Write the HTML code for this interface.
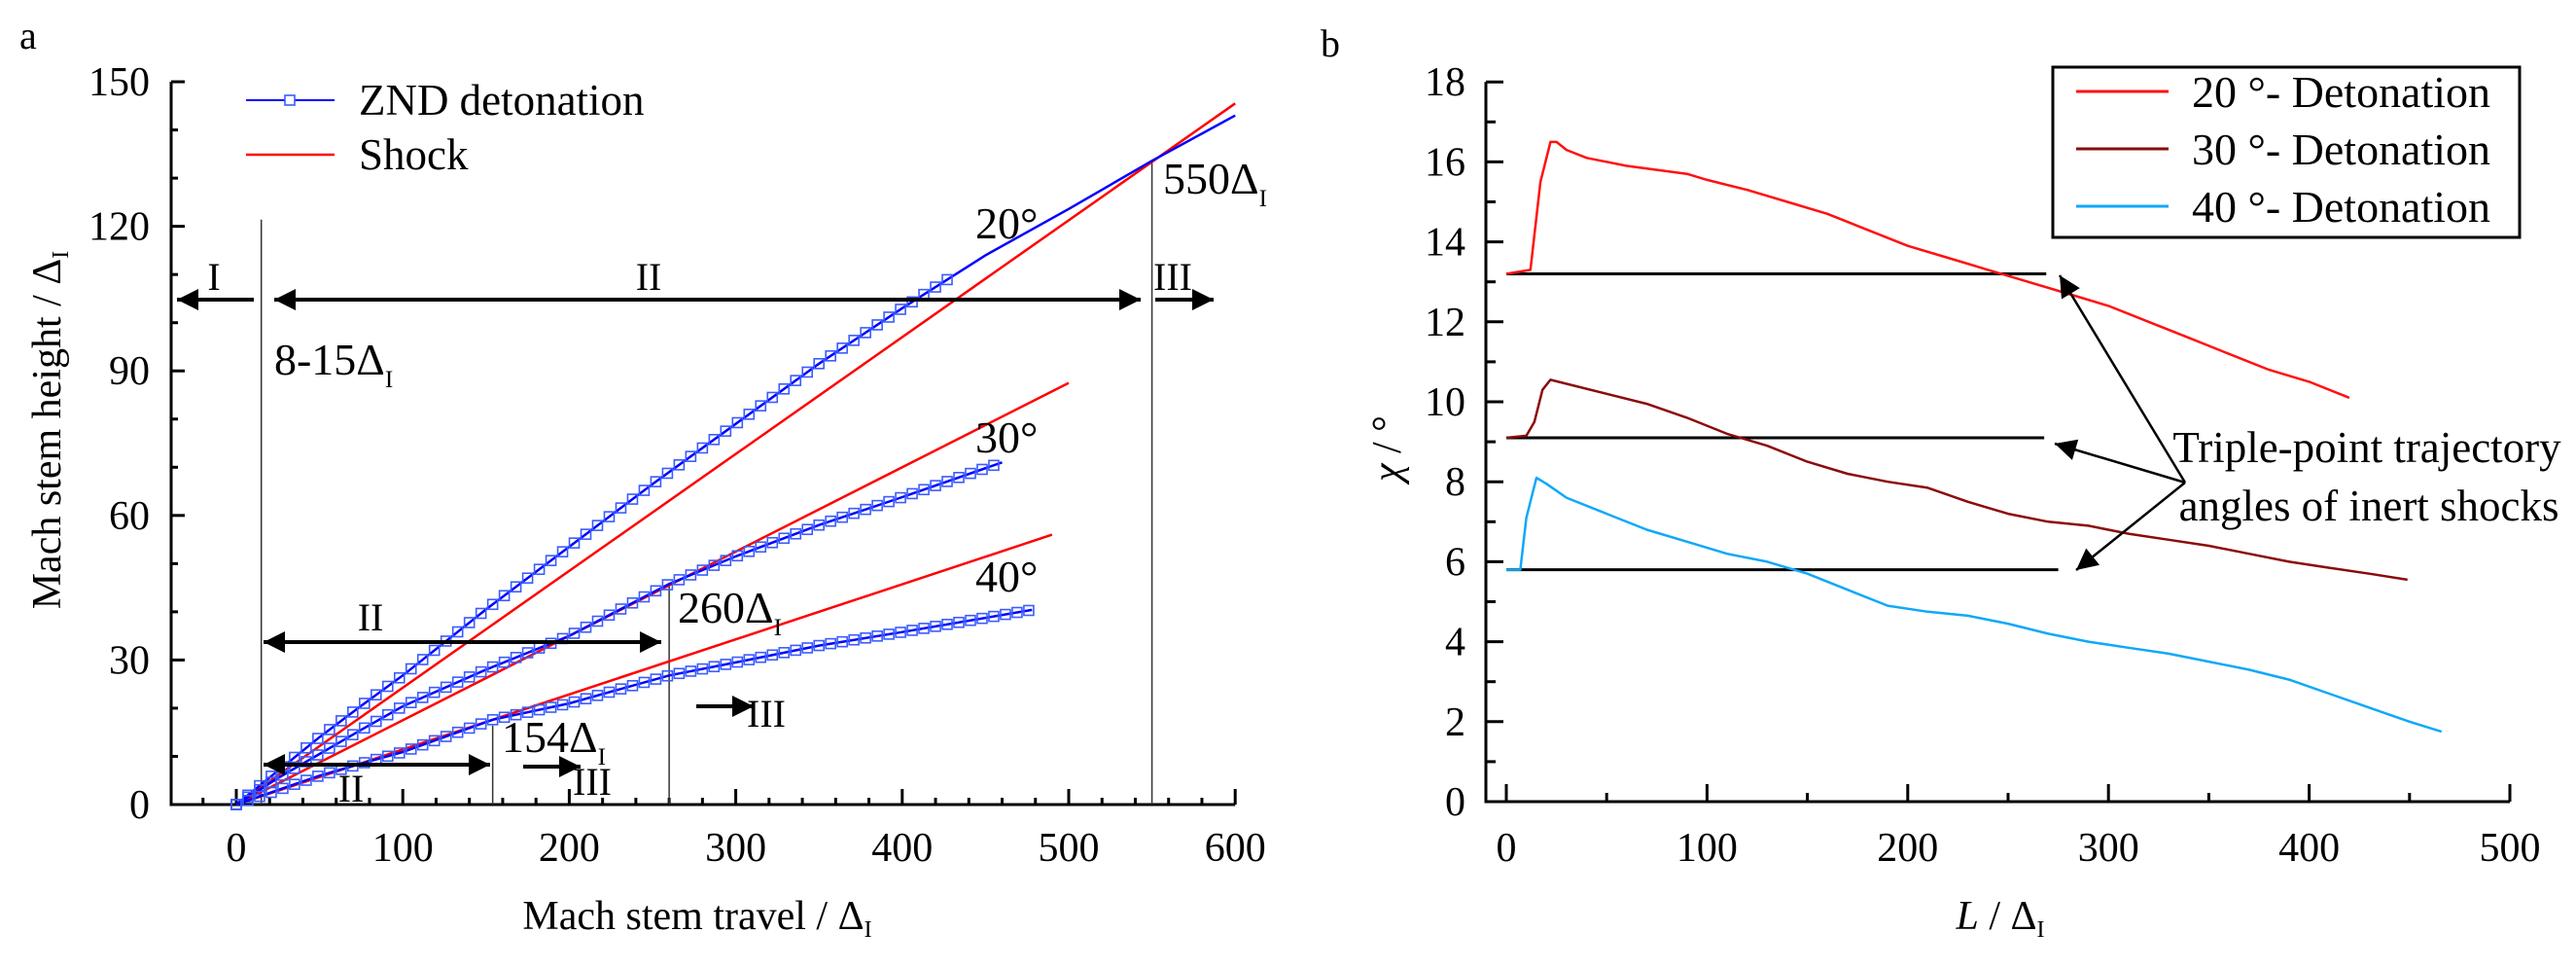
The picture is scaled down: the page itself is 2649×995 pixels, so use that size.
<!DOCTYPE html>
<html><head><meta charset="utf-8"><style>
html,body{margin:0;padding:0;background:#fff}
svg, svg text, svg tspan{font-family:'Liberation Serif',serif !important}
</style></head><body>
<svg id="fig" width="2649" height="990" viewBox="0 0 2649 990" xmlns="http://www.w3.org/2000/svg" style="font-family:'Liberation Serif',serif">
<defs>
<marker id="ah" viewBox="0 0 10 10" refX="10" refY="5" markerWidth="30" markerHeight="22" markerUnits="userSpaceOnUse" orient="auto-start-reverse"><path d="M0,0 L10,5 L0,10 Z" fill="#000"/></marker>
<marker id="ahb" viewBox="0 0 10 10" refX="10" refY="5" markerWidth="32" markerHeight="22" markerUnits="userSpaceOnUse" orient="auto-start-reverse"><path d="M0,0 L10,5 L0,10 Z" fill="#000"/></marker>
</defs>
<g id="chartA"></g>
<g id="chartB"></g>
</svg>
<script>
// ---------- Chart A data ----------
const aXTicks = [0,100,200,300,400,500,600];
const aYTicks = [0,30,60,90,120,150];
const znd20X = [0,25,50,75,100,150,200,250,300,350,400,450,500,550,600];
const znd20Y = [0,7,14,20.5,26.8,40.5,53.5,66.5,79,91.5,103,114,123.6,133.6,143];
const znd30X = [0,25,50,75,100,150,200,260,300,350,400,460];
const znd30Y = [0,5.5,10.5,15.5,20.4,28,35,45.8,51.5,58,63.8,71];
const znd40X = [0,25,50,75,100,154,200,260,300,350,400,478];
const znd40Y = [0,3,6,8.5,10.9,17.6,21,26.8,29.5,33,35.8,40.4];
const shockX = [[0,600],[0,500],[0,490]];
const shockY = [[0,145.5],[0,87.5],[0,56]];
const markerEnd = [430,460,478];
const markerStep = 7;

// ---------- Chart B data ----------
const bXTicks = [0,100,200,300,400,500];
const bYTicks = [0,2,4,6,8,10,12,14,16,18];
const det20X = [0,12,17,22,25,30,40,60,75,90,100,120,140,160,180,200,220,240,260,280,300,320,340,360,380,400,420];
const det20Y = [13.2,13.3,15.5,16.5,16.5,16.3,16.1,15.9,15.8,15.7,15.55,15.3,15.0,14.7,14.3,13.9,13.6,13.3,13.0,12.7,12.4,12.0,11.6,11.2,10.8,10.5,10.1];
const det30X = [0,10,14,18,22,30,50,70,90,110,130,150,170,190,210,230,250,270,290,310,330,350,370,390,410,430,449];
const det30Y = [9.1,9.15,9.5,10.3,10.55,10.45,10.2,9.95,9.6,9.2,8.9,8.5,8.2,8.0,7.85,7.5,7.2,7.0,6.9,6.7,6.55,6.4,6.2,6.0,5.85,5.7,5.55];
const det40X = [0,7,10,15,20,30,50,70,90,110,130,150,170,190,210,230,250,270,290,310,330,350,370,390,410,430,450,466];
const det40Y = [5.8,5.8,7.1,8.1,7.95,7.6,7.2,6.8,6.5,6.2,6.0,5.7,5.3,4.9,4.75,4.65,4.45,4.2,4.0,3.85,3.7,3.5,3.3,3.05,2.7,2.35,2.0,1.75];
const inertY = [13.2,9.1,5.8];
const inertEnd = [269,268,275];

const NS = "http://www.w3.org/2000/svg";
const FONTSTYLE = "font-family:'Liberation Serif',serif";
function mk(parent, tag, attrs, text){
  const e = document.createElementNS(NS, tag);
  for (const k in attrs) e.setAttribute(k, attrs[k]);
  if (tag === 'text' || tag === 'tspan') e.setAttribute('style', FONTSTYLE + (attrs.italic ? ';font-style:italic' : ''));
  if (text !== undefined) e.textContent = text;
  parent.appendChild(e); return e;
}
function sText(parent, x, y, size, anchor){
  const k = size/42;
  return mk(parent,'text',{x:0,y:0,'font-size':42,'text-anchor':anchor||'start',fill:'#000',transform:`translate(${x},${y}) scale(${k.toFixed(3)})`});
}
function interp(xs, ys, x){
  for (let i=0;i<xs.length-1;i++){ if (x>=xs[i] && x<=xs[i+1]) { const t=(x-xs[i])/(xs[i+1]-xs[i]); return ys[i]+t*(ys[i+1]-ys[i]); } }
  return ys[ys.length-1];
}
function pathD(xs, ys, sx, sy){ return xs.map((x,i)=>(i?'L':'M')+sx(x).toFixed(1)+','+sy(ys[i]).toFixed(1)).join(' '); }
function deltaLabel(g, x, y, pre, size, name){
  const t = sText(g, x, y, size);
  
  
  mk(t,'tspan',{},pre+'Δ');
  mk(t,'tspan',{'font-size':23,dy:12},'I');
  return t;
}

// ---------- Chart A ----------
(function(){
  const g = document.getElementById('chartA');
  const ax = x => 243 + (x)*1.712;
  const ay = y => 827 - y*4.953;
  const x0 = 176, xR = ax(600), yB = ay(0);
  const txt = (x,y,s,size,name,anchor)=>{ const t=sText(g,x,y,size,anchor); mk(t,'tspan',{},s);   return t; };
  txt(20,50,'a',40,'panel-label-a');
  const axl = mk(g,'path',{d:`M${x0},${ay(150)} L${x0},${yB} L${xR},${yB}`,stroke:'#000','stroke-width':3,fill:'none'});
   
  for (let v=-40; v<=600; v+=20){ const major = v%100===0; if (v<-35) continue;
    const tk = mk(g,'line',{x1:ax(v),x2:ax(v),y1:yB,y2:yB-(major?16:7),stroke:'#000','stroke-width':3});
      }
  aXTicks.forEach(v=>txt(ax(v),885,String(v),42,'x-tick-label','middle'));
  for (let v=0; v<=150; v+=10){ const major=v%30===0;
    const tk = mk(g,'line',{x1:x0,x2:x0+(major?14:7),y1:ay(v),y2:ay(v),stroke:'#000','stroke-width':3});
      }
  aYTicks.forEach(v=>txt(154,ay(v)+14,String(v),42,'y-tick-label','end'));
  const yt = mk(g,'text',{x:0,y:0,'font-size':42,'text-anchor':'middle',transform:'translate(62,442) rotate(-90)'});
   
  mk(yt,'tspan',{},'Mach stem height / Δ'); mk(yt,'tspan',{'font-size':24,dy:8},'I');
  const xt = mk(g,'text',{x:717,y:955,'font-size':42,'text-anchor':'middle'});
   
  mk(xt,'tspan',{},'Mach stem travel / Δ'); mk(xt,'tspan',{'font-size':24,dy:8},'I');
  [[15,122],[154,17],[260,46],[550,134]].forEach(p=>{
    const l = mk(g,'line',{x1:ax(p[0]),x2:ax(p[0]),y1:ay(p[1])+3,y2:yB,stroke:'#333','stroke-width':1.5});
      });
  const shockNames=['shock-20','shock-30','shock-40'];
  shockX.forEach((xs,i)=>{ const p=mk(g,'path',{d:pathD(xs,shockY[i],ax,ay),stroke:'#ff0000','stroke-width':2.5,fill:'none'});
      });
  const zx=[znd20X,znd30X,znd40X], zy=[znd20Y,znd30Y,znd40Y], zn=['znd-20','znd-30','znd-40'];
  zx.forEach((xs,i)=>{
    const p=mk(g,'path',{d:pathD(xs,zy[i],ax,ay),stroke:'#0000ff','stroke-width':2.5,fill:'none'});
     
    for (let x=0; x<=markerEnd[i]; x+=markerStep){
      const y=interp(xs,zy[i],x);
      const r=mk(g,'rect',{x:ax(x)-5,y:ay(y)-5,width:10,height:10,fill:'none',stroke:'#3a5cff','stroke-width':1.6});
       
    }
  });
  const lg = mk(g,'g',{});  
  const l1=mk(lg,'line',{x1:253,x2:344,y1:103,y2:103,stroke:'#0000ff','stroke-width':2});
   
  const r1=mk(lg,'rect',{x:293,y:98,width:10,height:10,fill:'#fff',stroke:'#3a5cff','stroke-width':1.6});
   
  txt(369,118,'ZND detonation',45,'legend-znd-text');
  const l2=mk(lg,'line',{x1:253,x2:344,y1:159,y2:159,stroke:'#ff0000','stroke-width':2.5});
   
  txt(369,174,'Shock',45,'legend-shock-text');
  const arrow=(x1,x2,y,both,name)=>{ const a=mk(g,'line',{x1:x1,x2:x2,y1:y,y2:y,stroke:'#000','stroke-width':4,'marker-end':'url(#ahb)'}); if(both) a.setAttribute('marker-start','url(#ahb)');   };
  arrow(261,182,308,false,'arrow-region-I');
  arrow(282,1173,308,true,'arrow-region-II-20');
  arrow(1188,1248,308,false,'arrow-region-III-20');
  arrow(271,680,660,true,'arrow-region-II-30');
  arrow(271,504,786,true,'arrow-region-II-40');
  arrow(538,597,788,false,'arrow-region-III-40');
  arrow(716,775,726,false,'arrow-region-III-30');
  txt(220,298,'I',40,'label-I','middle');
  txt(667,298,'II',40,'label-II','middle');
  txt(1206,298,'III',40,'label-III','middle');
  txt(381,648,'II',40,'label-II-30','middle');
  txt(361,824,'II',40,'label-II-40','middle');
  txt(609,817,'III',40,'label-III-40','middle');
  txt(788,747,'III',40,'label-III-30','middle');
  deltaLabel(g,282,385,'8-15',46,'label-8-15');
  deltaLabel(g,1196,199,'550',46,'label-550');
  deltaLabel(g,697,640,'260',46,'label-260');
  deltaLabel(g,516,773,'154',46,'label-154');
  txt(1003,245,'20°',46,'angle-label-20');
  txt(1003,465,'30°',46,'angle-label-30');
  txt(1003,608,'40°',46,'angle-label-40');
})();

// ---------- Chart B ----------
(function(){
  const g = document.getElementById('chartB');
  const bx = x => 1549 + x*2.064;
  const by = y => 824 - y*41.1;
  const x0 = 1528, xR = bx(500), yB = by(0);
  const txt = (x,y,s,size,name,anchor)=>{ const t=sText(g,x,y,size,anchor); mk(t,'tspan',{},s);   return t; };
  txt(1358,58,'b',40,'panel-label-b');
  const axl = mk(g,'path',{d:`M${x0},${by(18)} L${x0},${yB} L${xR},${yB}`,stroke:'#000','stroke-width':3,fill:'none'});
   
  for (let v=0; v<=500; v+=50){ const major=v%100===0;
    const tk=mk(g,'line',{x1:bx(v),x2:bx(v),y1:yB,y2:yB-(major?18:9),stroke:'#000','stroke-width':3});
      }
  bXTicks.forEach(v=>txt(bx(v),885,String(v),42,'x-tick-label','middle'));
  for (let v=0; v<=18; v+=1){ const major=v%2===0;
    const tk=mk(g,'line',{x1:x0,x2:x0+(major?18:10),y1:by(v),y2:by(v),stroke:'#000','stroke-width':3});
      }
  bYTicks.forEach(v=>txt(1507,by(v)+14,String(v),42,'y-tick-label','end'));
  const yt = mk(g,'text',{x:0,y:0,'font-size':42,'text-anchor':'middle',transform:'translate(1440,461) rotate(-90)'});
   
  mk(yt,'tspan',{italic:1},'χ'); mk(yt,'tspan',{},' / °');
  const xt = mk(g,'text',{x:2057,y:955,'font-size':42,'text-anchor':'middle'});
   
  mk(xt,'tspan',{italic:1},'L'); mk(xt,'tspan',{},' / Δ'); mk(xt,'tspan',{'font-size':24,dy:8},'I');
  inertY.forEach((v,i)=>{ const l=mk(g,'line',{x1:bx(0),x2:bx(inertEnd[i]),y1:by(v),y2:by(v),stroke:'#000','stroke-width':3});
      });
  const cx=[det20X,det30X,det40X], cy=[det20Y,det30Y,det40Y], cc=['#ff1010','#8b0a0a','#10a8f8'], cn=['detonation-20','detonation-30','detonation-40'];
  cx.forEach((xs,i)=>{ const p=mk(g,'path',{d:pathD(xs,cy[i],bx,by),stroke:cc[i],'stroke-width':2.5,fill:'none','stroke-linejoin':'round'});
      });
  [[2118,283],[2113,456],[2135,586]].forEach(p=>{ const a=mk(g,'line',{x1:2247,y1:496,x2:p[0],y2:p[1],stroke:'#000','stroke-width':2.5,'marker-end':'url(#ah)'});
      });
  txt(2434,475,'Triple-point trajectory',45,'annotation-line-1','middle');
  txt(2436,535,'angles of inert shocks',45,'annotation-line-2','middle');
  const lg=mk(g,'g',{});  
  const box=mk(lg,'rect',{x:2111,y:69,width:480,height:175,fill:'#fff',stroke:'#000','stroke-width':3});
   
  const labs=['20 °- Detonation','30 °- Detonation','40 °- Detonation'], ly=[94,153,212];
  labs.forEach((s,i)=>{ const l=mk(lg,'line',{x1:2135,x2:2230,y1:ly[i],y2:ly[i],stroke:cc[i],'stroke-width':3});
     
    txt(2254,ly[i]+16,s,46,'legend-text-'+(20+i*10));
  });
})();
</script>
</body></html>
